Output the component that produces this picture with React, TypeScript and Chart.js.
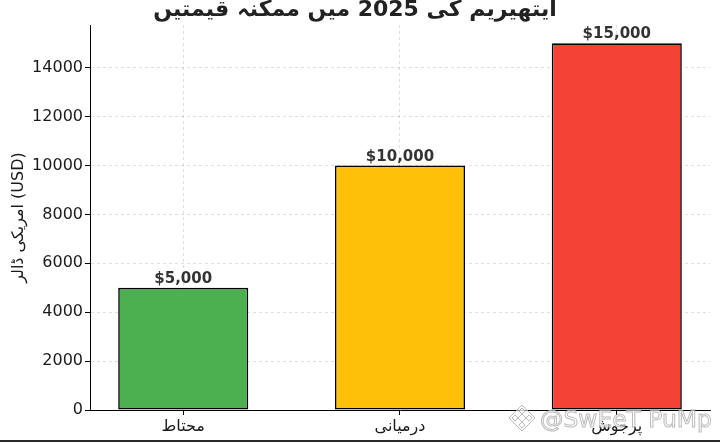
import { useEffect, useRef } from 'react';
import { Chart, registerables } from 'chart.js';

Chart.register(...registerables);

const chartTitle = 'ایتھیریم کی 2025 میں ممکنہ قیمتیں';
const yAxisTitle = 'امریکی ڈالر (USD)';
const categories = ['محتاط', 'درمیانی', 'پرجوش'];
const values = [5000, 10000, 15000];
const barColors = ['#4CAF50', '#FFC107', '#F44336'];
const yTicks = [0, 2000, 4000, 6000, 8000, 10000, 12000, 14000];
const yMax = 15750;
const xMin = -0.43;
const xMax = 2.43;
const watermark = '@SwEeT PuMp';

const FONT = '"DejaVu Sans", sans-serif';

const valueLabels = {
  id: 'valueLabels',
  afterDatasetsDraw(chart: any) {
    const { ctx } = chart;
    const meta = chart.getDatasetMeta(0);
    ctx.save();
    ctx.font = `bold 15px ${FONT}`;
    ctx.fillStyle = '#333333';
    ctx.textAlign = 'center';
    ctx.textBaseline = 'alphabetic';
    meta.data.forEach((bar: any, i: number) => {
      ctx.fillText('$' + values[i].toLocaleString('en-US'), bar.x, bar.y - 5);
    });
    ctx.restore();
  },
};

const watermarkPlugin = {
  id: 'watermarkPlugin',
  afterDraw(chart: any) {
    const { ctx } = chart;
    ctx.save();
    ctx.font = `25px ${FONT}`;
    const w = ctx.measureText(watermark).width;
    const size = (25 * 172) / w;
    ctx.font = `${size}px ${FONT}`;
    ctx.textAlign = 'left';
    ctx.textBaseline = 'alphabetic';
    ctx.fillStyle = 'rgba(255,255,255,0.55)';
    ctx.fillText(watermark, 540, 427);
    ctx.strokeStyle = 'rgba(165,165,165,0.75)';
    ctx.lineWidth = 1;
    ctx.strokeText(watermark, 540, 427);
    const cx = 522;
    const cy = 418;
    const drawDiamond = (r: number, ox: number, oy: number) => {
      ctx.beginPath();
      ctx.moveTo(cx + ox, cy + oy - r);
      ctx.lineTo(cx + ox + r, cy + oy);
      ctx.lineTo(cx + ox, cy + oy + r);
      ctx.lineTo(cx + ox - r, cy + oy);
      ctx.closePath();
      ctx.fillStyle = 'rgba(255,255,255,0.5)';
      ctx.fill();
      ctx.stroke();
    };
    drawDiamond(13, 0, 0);
    drawDiamond(4, 0, 0);
    drawDiamond(3, -7, 0);
    drawDiamond(3, 7, 0);
    drawDiamond(3, 0, -7);
    drawDiamond(3, 0, 7);
    ctx.restore();
  },
};

export default function App() {
  const canvasRef = useRef<HTMLCanvasElement | null>(null);

  useEffect(() => {
    if (!canvasRef.current) return;
    Chart.defaults.font.family = FONT;
    const gridCommon = {
      color: 'rgba(0,0,0,0.16)',
      lineWidth: 0.8,
      tickLength: 5,
      tickColor: '#000000',
      tickWidth: 1,
      tickBorderDash: [],
      offset: false,
    };
    const chart = new Chart(canvasRef.current, {
      type: 'bar',
      data: {
        datasets: [
          {
            data: values.map((v, i) => ({ x: i, y: v })),
            backgroundColor: barColors,
            borderColor: '#000000',
            borderWidth: 1.6,
            borderSkipped: false,
            barPercentage: 0.6,
            categoryPercentage: 1,
          },
        ],
      },
      options: {
        responsive: false,
        animation: false,
        devicePixelRatio: 1,
        layout: { padding: { left: 0, right: 10, top: 0, bottom: 0 } },
        plugins: {
          legend: { display: false },
          tooltip: { enabled: false },
          title: {
            display: true,
            text: chartTitle,
            color: '#222222',
            font: { family: FONT, size: 22, weight: 'bold', lineHeight: 0.9 },
            padding: { top: 0, bottom: 5.2 },
          },
        },
        scales: {
          x: {
            type: 'linear',
            min: xMin,
            max: xMax,
            offset: false,
            z: 1,
            afterBuildTicks: (s: any) => {
              s.ticks = categories.map((_, i) => ({ value: i }));
            },
            afterFit: (s: any) => {
              s.height = 33;
            },
            ticks: {
              callback: (v: any) => categories[v] ?? '',
              font: { family: FONT, size: 16 },
              color: '#1a1a1a',
              padding: 2,
              maxRotation: 0,
              autoSkip: false,
            },
            grid: gridCommon,
            border: { display: true, color: '#000000', width: 1, dash: [3, 3] },
          },
          y: {
            type: 'linear',
            min: 0,
            max: yMax,
            z: 1,
            afterBuildTicks: (s: any) => {
              s.ticks = yTicks.map((v) => ({ value: v }));
            },
            afterFit: (s: any) => {
              s.width = 90;
            },
            ticks: {
              font: { family: FONT, size: 16 },
              color: '#1a1a1a',
              padding: 2,
              includeBounds: false,
              callback: (v: any) => String(v),
            },
            title: {
              display: true,
              text: yAxisTitle,
              color: '#1a1a1a',
              font: { family: FONT, size: 16 },
              padding: { top: 9, bottom: 0 },
            },
            grid: gridCommon,
            border: { display: true, color: '#000000', width: 1, dash: [3, 3] },
          },
        },
      },
      plugins: [valueLabels, watermarkPlugin],
    } as any);
    return () => chart.destroy();
  }, []);

  return (
    <div
      style={{
        position: 'fixed',
        left: 0,
        top: 0,
        width: 720,
        height: 443,
        background: '#ffffff',
        overflow: 'hidden',
      }}
    >
      <canvas ref={canvasRef} width={720} height={443} style={{ width: 720, height: 443, display: 'block' }} />
      <div
        style={{
          position: 'absolute',
          left: 0,
          top: 440,
          width: 720,
          height: 2,
          background: '#2a2a2a',
        }}
      />
    </div>
  );
}
